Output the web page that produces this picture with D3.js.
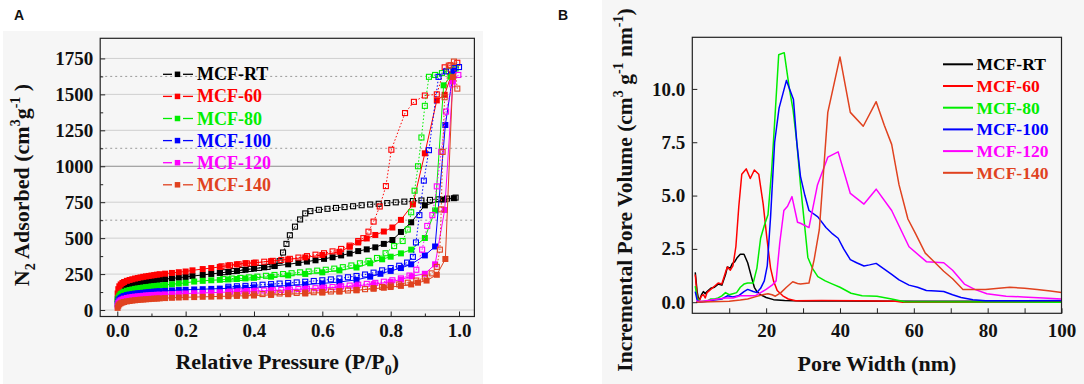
<!DOCTYPE html>
<html><head><meta charset="utf-8">
<script src="https://cdn.jsdelivr.net/npm/d3@7"></script>
<style>
body{margin:0;background:#fff}
svg{display:block}
svg text, svg tspan{font-family:'Liberation Serif','Times New Roman',serif !important;font-weight:bold !important}
svg text.sans{font-family:'Liberation Sans',Arial,sans-serif !important}
</style>
</head><body>
<svg id="c" width="1084" height="384" font-family="Liberation Serif" font-weight="bold"></svg>
<script>
// ---------- DATA ----------
const seriesNames = ["MCF-RT","MCF-60","MCF-80","MCF-100","MCF-120","MCF-140"];
const seriesColors = ["#000000","#ff0000","#00ee00","#0000ff","#ff00ff","#e0421f"];

// Panel A: N2 isotherms, [relative pressure, adsorbed volume]
const adsRT = [[0.001,75],[0.003,105],[0.006,125],[0.01,140],[0.015,150],[0.02,158],[0.028,166],[0.036,172],[0.044,177],[0.052,182],[0.06,186],[0.068,190],[0.076,194],[0.084,197],[0.092,200],[0.1,203],[0.108,206],[0.116,209],[0.124,212],[0.14,215],[0.16,220],[0.18,225],[0.2,230],[0.22,236],[0.25,244],[0.275,251],[0.3,258],[0.325,265],[0.35,272],[0.375,280],[0.4,288],[0.43,297],[0.46,306],[0.5,318],[0.53,328],[0.555,337],[0.58,346],[0.605,356],[0.63,367],[0.655,380],[0.68,393],[0.705,410],[0.73,422],[0.755,436],[0.78,460],[0.805,487],[0.83,543],[0.86,610],[0.9,728],[0.955,768],[0.985,778]];
const desRT = [[0.99,782],[0.965,775],[0.94,770],[0.915,766],[0.89,762],[0.865,758],[0.84,754],[0.815,749],[0.79,744],[0.765,739],[0.74,734],[0.715,729],[0.69,722],[0.665,716],[0.64,710],[0.615,704],[0.59,697],[0.565,688],[0.55,672],[0.535,630],[0.52,580],[0.505,520],[0.495,460],[0.485,400],[0.475,340],[0.46,308],[0.44,300],[0.415,293],[0.39,286],[0.365,279],[0.34,271],[0.315,263]];
const ads60 = [[0.001,115],[0.003,145],[0.006,165],[0.01,178],[0.015,188],[0.02,195],[0.028,203],[0.036,209],[0.044,214],[0.052,219],[0.06,223],[0.068,227],[0.076,231],[0.084,234],[0.092,237],[0.1,240],[0.108,243],[0.116,246],[0.124,249],[0.14,253],[0.16,258],[0.18,263],[0.2,268],[0.22,276],[0.25,285],[0.275,292],[0.3,300],[0.325,310],[0.35,318],[0.375,326],[0.4,328],[0.45,340],[0.5,352],[0.55,366],[0.6,383],[0.65,405],[0.68,440],[0.705,470],[0.73,498],[0.755,522],[0.78,546],[0.805,574],[0.83,627],[0.865,735],[0.9,1090],[0.935,1458],[0.958,1497],[0.978,1640]];
const des60 = [[0.995,1720],[0.975,1702],[0.958,1688],[0.935,1500],[0.9,1492],[0.868,1448],[0.842,1370],[0.802,1115],[0.786,862],[0.768,720],[0.75,615],[0.735,545],[0.72,500],[0.705,480],[0.68,448],[0.655,425],[0.63,408],[0.605,395],[0.58,385],[0.555,375],[0.53,365],[0.505,356],[0.48,348],[0.455,342],[0.43,336],[0.405,330],[0.38,324],[0.355,318],[0.33,311],[0.305,304]];
const ads80 = [[0.001,60],[0.003,85],[0.006,100],[0.01,112],[0.015,120],[0.02,127],[0.028,134],[0.036,139],[0.044,143],[0.052,147],[0.06,150],[0.068,153],[0.076,156],[0.084,159],[0.092,161],[0.1,164],[0.108,166],[0.116,168],[0.124,170],[0.14,174],[0.16,179],[0.18,184],[0.2,189],[0.225,198],[0.25,203],[0.275,207],[0.3,210],[0.325,213],[0.35,216],[0.375,220],[0.4,224],[0.45,232],[0.5,241],[0.55,251],[0.6,262],[0.65,276],[0.7,296],[0.74,325],[0.775,353],[0.8,371],[0.83,394],[0.86,420],[0.9,501],[0.93,693],[0.955,1563],[0.975,1625]];
const des80 = [[0.99,1680],[0.97,1662],[0.95,1648],[0.93,1635],[0.912,1622],[0.9,1420],[0.89,1200],[0.88,1000],[0.87,830],[0.86,680],[0.85,560],[0.835,480],[0.81,445],[0.785,395],[0.76,362],[0.735,342],[0.71,325],[0.685,310],[0.66,298],[0.635,288],[0.61,280],[0.585,274],[0.56,268],[0.535,262],[0.51,256],[0.485,250],[0.46,244],[0.435,238],[0.41,232],[0.385,227],[0.36,223],[0.335,219],[0.31,215]];
const ads100 = [[0.001,40],[0.003,60],[0.006,75],[0.01,85],[0.015,92],[0.02,98],[0.028,104],[0.036,108],[0.044,111],[0.052,114],[0.06,116],[0.068,118],[0.076,120],[0.084,122],[0.092,124],[0.1,126],[0.108,128],[0.116,129],[0.124,131],[0.14,133],[0.16,136],[0.18,139],[0.2,141],[0.225,143],[0.25,145],[0.275,147],[0.3,149],[0.325,151],[0.35,153],[0.375,155],[0.4,158],[0.45,164],[0.5,170],[0.55,177],[0.6,185],[0.65,195],[0.7,210],[0.74,232],[0.77,252],[0.8,272],[0.83,292],[0.86,318],[0.9,380],[0.93,442],[0.96,1287],[0.984,1665]];
const des100 = [[1.0,1690],[0.985,1682],[0.962,1660],[0.94,1622],[0.912,1112],[0.897,900],[0.884,660],[0.874,470],[0.865,370],[0.848,330],[0.825,308],[0.8,292],[0.775,276],[0.75,260],[0.725,247],[0.7,237],[0.675,228],[0.65,220],[0.625,213],[0.6,207],[0.575,202],[0.55,197],[0.525,192],[0.5,188],[0.475,184],[0.45,180],[0.425,176],[0.4,172],[0.375,168],[0.35,165],[0.325,162]];
const ads120 = [[0.001,30],[0.003,48],[0.006,60],[0.01,68],[0.015,74],[0.02,79],[0.028,84],[0.036,88],[0.044,91],[0.052,93],[0.06,95],[0.068,97],[0.076,99],[0.084,101],[0.092,102],[0.1,104],[0.108,105],[0.116,106],[0.124,107],[0.14,109],[0.16,111],[0.18,113],[0.2,115],[0.225,117],[0.25,119],[0.275,121],[0.3,123],[0.325,125],[0.35,127],[0.375,129],[0.4,131],[0.45,135],[0.5,140],[0.55,146],[0.6,152],[0.65,159],[0.7,168],[0.75,180],[0.8,196],[0.83,212],[0.862,235],[0.9,252],[0.93,318],[0.958,696],[0.982,1590]];
const des120 = [[0.998,1635],[0.98,1570],[0.962,1380],[0.948,1100],[0.935,860],[0.922,660],[0.907,585],[0.892,420],[0.875,280],[0.855,240],[0.83,220],[0.805,207],[0.78,197],[0.755,189],[0.73,182],[0.705,176],[0.68,170],[0.655,165],[0.63,160],[0.605,156],[0.58,152],[0.555,149],[0.53,146],[0.505,143],[0.48,140],[0.455,138],[0.43,136],[0.405,134],[0.38,132],[0.355,130],[0.33,128]];
const ads140 = [[0.001,15],[0.003,30],[0.006,40],[0.01,47],[0.015,52],[0.02,56],[0.028,60],[0.036,63],[0.044,66],[0.052,68],[0.06,70],[0.068,72],[0.076,73],[0.084,75],[0.092,76],[0.1,78],[0.108,79],[0.116,80],[0.124,81],[0.14,83],[0.16,85],[0.18,87],[0.2,89],[0.225,90],[0.25,92],[0.275,93],[0.3,95],[0.325,96],[0.35,98],[0.375,99],[0.4,101],[0.45,105],[0.5,110],[0.55,115],[0.6,121],[0.65,128],[0.7,137],[0.75,148],[0.78,155],[0.8,160],[0.83,168],[0.86,178],[0.88,190],[0.905,205],[0.935,245],[0.96,355],[0.982,1620]];
const des140 = [[0.995,1540],[0.985,1728],[0.97,1700],[0.958,1480],[0.952,1100],[0.948,700],[0.944,420],[0.935,300],[0.92,255],[0.9,225],[0.875,205],[0.85,190],[0.825,178],[0.8,170],[0.775,160],[0.75,152],[0.725,145],[0.7,140],[0.675,136],[0.65,132],[0.625,129],[0.6,126],[0.575,124],[0.55,121],[0.525,119],[0.5,117],[0.475,115],[0.45,113],[0.425,111],[0.4,109],[0.375,107],[0.35,105],[0.325,103]];

const adsAll = [adsRT, ads60, ads80, ads100, ads120, ads140];
const desAll = [desRT, des60, des80, des100, des120, des140];

const yTicksA = [0,250,500,750,1000,1250,1500,1750];
const yMinorA = [125,375,625,875,1125,1375,1625];
const xTicksA = [0,0.2,0.4,0.6,0.8,1.0];
const xMinorA = [0.1,0.3,0.5,0.7,0.9];
const gridSolidA = [0,250,500,750,1250,1500,1750];
const gridDarkA = [1000];
const gridDotA = [625,1125,1625];

// Panel B: pore size distributions, [pore width nm, incremental pore volume]
const psdRT = [[0.8,1.4],[1.3,0.5],[1.8,0.05],[2.5,0.35],[3,0.5],[3.5,0.4],[4,0.5],[5,0.65],[6,0.7],[7,0.85],[8,0.8],[9,1.3],[9.5,1.65],[10.3,1.6],[10.8,1.8],[11.5,1.9],[12.2,2.1],[13,2.25],[14,2.25],[15,1.85],[16,1.2],[16.8,0.7],[17.5,0.5],[18.5,0.35],[20,0.22],[22,0.12],[25,0.08],[30,0.06],[40,0.06],[60,0.05],[80,0.04],[100,0.04]];
const psd60 = [[0.8,1.3],[1.3,0.3],[1.8,0.02],[2.5,0.3],[3,0.35],[3.5,0.2],[4,0.45],[5,0.6],[6,0.75],[7,0.9],[8,0.85],[9,1.4],[9.5,1.65],[10.3,1.5],[11,1.7],[11.8,2.6],[12.6,4.5],[13.4,6.0],[14.6,6.25],[15.7,5.8],[16.8,6.2],[18,6.0],[19.2,4.6],[20.2,3.0],[21.2,1.6],[22,1.0],[23,0.55],[24.5,0.3],[26,0.15],[28,0.07],[35,0.08],[45,0.07],[55,0.05],[57,0.0],[100,0.0]];
const psd80 = [[0.8,0.75],[1.3,0.2],[2,0.02],[3,0.05],[4,0.05],[5,0.15],[6,0.15],[7,0.2],[8,0.3],[9,0.45],[10,0.35],[11,0.4],[12,0.45],[13,0.7],[14,0.85],[15,0.9],[16.5,0.9],[17.5,1.6],[18.5,3.0],[19.5,3.6],[20.5,4.1],[21.5,6.2],[22.5,9.0],[23.4,11.6],[24.9,11.7],[26.3,10.0],[27.3,9.0],[28.3,7.5],[29.3,5.5],[30.3,3.8],[31.3,2.1],[32.5,1.6],[34,1.2],[36,1.0],[38,0.85],[40,0.7],[43,0.42],[46,0.3],[50,0.28],[54,0.15],[57.5,0.02],[100,0.0]];
const psd100 = [[0.8,0.5],[1.3,0.1],[2,0.0],[4,0.05],[6,0.1],[8,0.15],[9.5,0.3],[11,0.25],[12.5,0.3],[14,0.5],[15,0.6],[16.5,0.5],[17.5,0.45],[18.5,0.65],[19.5,1.0],[20.3,1.7],[21.2,4.0],[22.3,7.5],[23.5,9.1],[25.5,10.4],[27.4,9.5],[28.3,7.5],[29.3,5.9],[30.5,5.0],[31.6,4.3],[34,4.0],[36.2,3.5],[38,3.2],[39.5,3.0],[41,2.5],[42.8,2.0],[44.5,1.85],[46.5,1.7],[48,1.75],[49.8,1.82],[52,1.55],[54,1.3],[56,1.05],[58.7,0.8],[61,0.7],[63.4,0.55],[66,0.52],[68.1,0.5],[70.5,0.35],[72.8,0.22],[76,0.12],[79.4,0.07],[90,0.07],[100,0.08]];
const psd120 = [[1,0.05],[3,0.05],[5,0.1],[7,0.15],[9,0.2],[11,0.2],[13,0.3],[15,0.3],[17,0.3],[18.5,0.45],[20,0.6],[21.6,0.8],[22.7,1.0],[23.7,2.8],[24.8,4.3],[25.8,4.5],[27,4.95],[28.5,3.75],[29.3,3.7],[31.6,3.5],[33.9,5.5],[36.7,6.8],[39.5,7.05],[42.8,5.1],[46.5,4.6],[49.8,5.3],[54,4.3],[58.7,2.6],[63.4,1.9],[68.1,1.85],[70.5,1.5],[73.7,0.85],[76.5,0.6],[79.8,0.4],[85,0.28],[89.6,0.25],[95,0.2],[100,0.15]];
const psd140 = [[1,0.0],[5,0.02],[10,0.05],[13,0.1],[15,0.15],[17,0.25],[19,0.35],[20.5,0.4],[21.6,0.35],[22.5,0.28],[24,0.45],[25.5,0.7],[27.2,0.96],[28.5,0.88],[29.3,0.85],[31.6,0.9],[33,2.0],[34.4,3.4],[35.5,6.0],[36.7,8.9],[40,11.5],[42.8,8.9],[46.3,8.25],[49.8,9.4],[52,8.3],[54,7.4],[56,5.5],[58.4,3.9],[60.5,3.2],[63.1,2.3],[65.5,1.9],[68.1,1.45],[70.5,1.1],[73.3,0.6],[79.4,0.6],[83,0.65],[86,0.7],[90,0.66],[93.4,0.6],[97,0.52],[100,0.45]];
const psdAll = [psdRT, psd60, psd80, psd100, psd120, psd140];

const yTicksB = [0,2.5,5,7.5,10];
const xTicksB = [20,40,60,80,100];
const xMinorB = [10,30,50,70,90];

// ---------- DRAW ----------
const svg = d3.select("#c");
const axisColor = "#222";

function sized(sel, size){ return sel.attr("font-size", size).style("font-size", size+"px"); }

// faint panel backgrounds
svg.append("rect").attr("x",3).attr("y",31).attr("width",480).attr("height",353).attr("fill","#f6f6f6");
svg.append("rect").attr("x",602).attr("y",0).attr("width",482).attr("height",384).attr("fill","#f6f6f6");

// panel letters
sized(svg.append("text").attr("class","sans").attr("x",14).attr("y",20).text("A").attr("fill","#111"),14);
sized(svg.append("text").attr("class","sans").attr("x",558).attr("y",20).text("B").attr("fill","#111"),14);

function styleAxis(g, fs){
  g.attr("font-family", null).attr("font-size", null);
  g.select(".domain").remove();
  g.selectAll(".tick line").attr("stroke",axisColor).attr("stroke-width",1);
  sized(g.selectAll(".tick text").attr("fill","#111"), fs);
}

// ===== Panel A =====
const xA = d3.scaleLinear().domain([-0.05,1.045]).range([100.2,474.4]);
const yA = d3.scaleLinear().domain([-45,1890]).range([316.5,38.3]);
const [ax0, ax1] = xA.range();
const gA = svg.append("g");

gA.selectAll("line.gs").data(gridSolidA).join("line")
  .attr("x1",ax0).attr("x2",ax1).attr("y1",d=>yA(d)).attr("y2",d=>yA(d))
  .attr("stroke","#cfcfcf").attr("stroke-width",1);
gA.selectAll("line.gd").data(gridDarkA).join("line")
  .attr("x1",ax0).attr("x2",ax1).attr("y1",d=>yA(d)).attr("y2",d=>yA(d))
  .attr("stroke","#8c8c8c").attr("stroke-width",1);
gA.selectAll("line.gdot").data(gridDotA).join("line")
  .attr("x1",ax0).attr("x2",ax1).attr("y1",d=>yA(d)).attr("y2",d=>yA(d))
  .attr("stroke","#9a9a9a").attr("stroke-width",1).attr("stroke-dasharray","2,3");

svg.append("clipPath").attr("id","clipA").append("rect")
  .attr("x",ax0).attr("y",yA.range()[1]).attr("width",ax1-ax0).attr("height",yA.range()[0]-yA.range()[1]);
const dA = gA.append("g").attr("clip-path","url(#clipA)");
const lineA = d3.line().x(d=>xA(d[0])).y(d=>yA(d[1]));
const ms = 6;

seriesNames.forEach((name,i)=>{
  const c = seriesColors[i];
  const g = dA.append("g");
  g.append("path").datum(desAll[i]).attr("d",lineA).attr("fill","none")
    .attr("stroke",c).attr("stroke-width",1).attr("stroke-dasharray","1.5,2");
  g.selectAll("rect.o").data(desAll[i]).join("rect")
    .attr("x",d=>xA(d[0])-ms/2+0.5).attr("y",d=>yA(d[1])-ms/2+0.5)
    .attr("width",ms-1).attr("height",ms-1).attr("fill","none").attr("stroke",c).attr("stroke-width",1.1);
  g.append("path").datum(adsAll[i]).attr("d",lineA).attr("fill","none")
    .attr("stroke",c).attr("stroke-width",1);
  g.selectAll("rect.f").data(adsAll[i]).join("rect")
    .attr("x",d=>xA(d[0])-ms/2).attr("y",d=>yA(d[1])-ms/2)
    .attr("width",ms).attr("height",ms).attr("fill",c);
});

// axes A
styleAxis(gA.append("g").attr("transform",`translate(${ax0},0)`)
  .call(d3.axisLeft(yA).tickValues(yTicksA).tickFormat(d3.format("d")).tickSizeInner(-5).tickSizeOuter(0).tickPadding(7)),19);
styleAxis(gA.append("g").attr("transform",`translate(${ax0},0)`)
  .call(d3.axisLeft(yA).tickValues(yMinorA).tickFormat("").tickSizeInner(-3).tickSizeOuter(0)),19);
styleAxis(gA.append("g").attr("transform",`translate(0,${yA.range()[0]})`)
  .call(d3.axisBottom(xA).tickValues(xTicksA).tickFormat(d3.format(".1f")).tickSizeInner(-5).tickSizeOuter(0).tickPadding(7.5)),19);
styleAxis(gA.append("g").attr("transform",`translate(0,${yA.range()[0]})`)
  .call(d3.axisBottom(xA).tickValues(xMinorA).tickFormat("").tickSizeInner(-3).tickSizeOuter(0)),19);

gA.append("rect").attr("x",ax0).attr("y",yA.range()[1]).attr("width",ax1-ax0)
  .attr("height",yA.range()[0]-yA.range()[1]).attr("fill","none").attr("stroke",axisColor).attr("stroke-width",1.2);

// legend A
seriesNames.forEach((name,i)=>{
  const y = 74.3 + i*22.1, c = seriesColors[i];
  gA.append("line").attr("x1",163).attr("x2",172).attr("y1",y).attr("y2",y).attr("stroke",c).attr("stroke-width",1.3);
  gA.append("line").attr("x1",183).attr("x2",193).attr("y1",y).attr("y2",y).attr("stroke",c).attr("stroke-width",1.3);
  gA.append("rect").attr("x",177.5-2.75).attr("y",y-2.75).attr("width",5.5).attr("height",5.5).attr("fill",c);
  sized(gA.append("text").attr("x",197).attr("y",y+6).text(name).attr("fill",c), 18);
});

// titles A
const tA = sized(gA.append("text").attr("transform","translate(29,185) rotate(-90)")
  .attr("text-anchor","middle").attr("fill","#111"), 22);
tA.append("tspan").text("N");
sized(tA.append("tspan").text("2"),14).attr("dy",6);
tA.append("tspan").text(" Adsorbed (cm").attr("dy",-6);
sized(tA.append("tspan").text("3"),14).attr("dy",-9);
tA.append("tspan").text("g").attr("dy",9);
sized(tA.append("tspan").text("-1"),14).attr("dy",-9);
tA.append("tspan").text(" )").attr("dy",9);

const xtA = sized(gA.append("text").attr("x",(ax0+ax1)/2).attr("y",369)
  .attr("text-anchor","middle").attr("fill","#111"), 22);
xtA.append("tspan").text("Relative Pressure (P/P");
sized(xtA.append("tspan").text("0"),14).attr("dy",6);
xtA.append("tspan").text(")").attr("dy",-6);

// ===== Panel B =====
const xB = d3.scaleLinear().domain([0,100]).range([692.3,1061.5]);
const yB = d3.scaleLinear().domain([-0.52,12.42]).range([313.3,37.3]);
const [bx0,bx1] = xB.range();
const gB = svg.append("g");

svg.append("clipPath").attr("id","clipB").append("rect")
  .attr("x",bx0).attr("y",yB.range()[1]).attr("width",bx1-bx0).attr("height",yB.range()[0]-yB.range()[1]);
const dB = gB.append("g").attr("clip-path","url(#clipB)");
const lineB = d3.line().x(d=>xB(d[0])).y(d=>yB(d[1]));
seriesNames.forEach((name,i)=>{
  dB.append("path").datum(psdAll[i]).attr("d",lineB).attr("fill","none")
    .attr("stroke",seriesColors[i]).attr("stroke-width",1.5).attr("stroke-linejoin","round");
});

styleAxis(gB.append("g").attr("transform",`translate(${bx0},0)`)
  .call(d3.axisLeft(yB).tickValues(yTicksB).tickFormat(d3.format(".1f")).tickSizeInner(-5).tickSizeOuter(0).tickPadding(7)),19);
styleAxis(gB.append("g").attr("transform",`translate(0,${yB.range()[0]})`)
  .call(d3.axisBottom(xB).tickValues(xTicksB).tickFormat(d3.format("d")).tickSizeInner(-5).tickSizeOuter(0).tickPadding(10)),19);
styleAxis(gB.append("g").attr("transform",`translate(0,${yB.range()[0]})`)
  .call(d3.axisBottom(xB).tickValues(xMinorB).tickFormat("").tickSizeInner(-5).tickSizeOuter(0)),19);

gB.append("rect").attr("x",bx0).attr("y",yB.range()[1]).attr("width",bx1-bx0)
  .attr("height",yB.range()[0]-yB.range()[1]).attr("fill","none").attr("stroke",axisColor).attr("stroke-width",1.2);

// legend B
seriesNames.forEach((name,i)=>{
  const y = 64.3 + i*21.7, c = seriesColors[i];
  gB.append("line").attr("x1",943).attr("x2",973).attr("y1",y).attr("y2",y).attr("stroke",c).attr("stroke-width",2);
  sized(gB.append("text").attr("x",976.5).attr("y",y+6).text(name).attr("fill",c), 17.5);
});

// titles B
const tB = sized(gB.append("text").attr("transform","translate(632,190) rotate(-90)")
  .attr("text-anchor","middle").attr("fill","#111"), 21.5);
tB.append("tspan").text("Incremental Pore Volume (cm");
sized(tB.append("tspan").text("3"),14).attr("dy",-9);
tB.append("tspan").text(" g").attr("dy",9);
sized(tB.append("tspan").text("-1"),14).attr("dy",-9);
tB.append("tspan").text(" nm").attr("dy",9);
sized(tB.append("tspan").text("-1"),14).attr("dy",-9);
tB.append("tspan").text(")").attr("dy",9);

sized(gB.append("text").attr("x",(bx0+bx1)/2).attr("y",371).attr("text-anchor","middle")
  .attr("fill","#111").text("Pore Width (nm)"), 22);
</script>
</body></html>
